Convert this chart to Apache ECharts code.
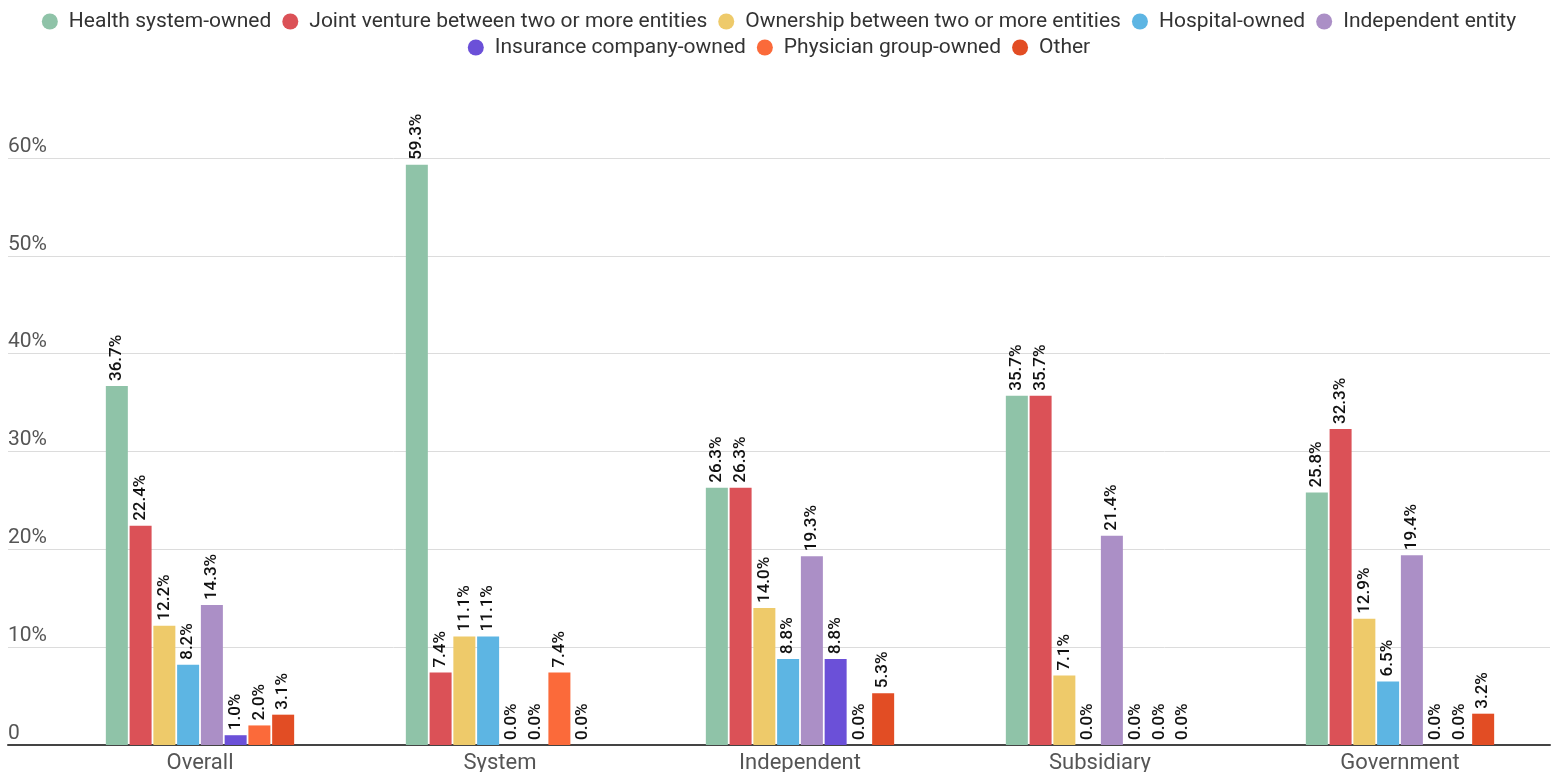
<!DOCTYPE html>
<html>
<head>
<meta charset="utf-8">
<script src="https://cdn.jsdelivr.net/npm/echarts@6/dist/echarts.min.js"></script>
<style>
  html, body { margin: 0; padding: 0; background: #fff; }
  #chart { width: 1558px; height: 772px; }
</style>
</head>
<body>
<div id="chart"></div>
<script>
// Ownership breakdown by organisation type (percent of respondents)
const categories = ['Overall', 'System', 'Independent', 'Subsidiary', 'Government'];

const seriesNames = [
  'Health system-owned',
  'Joint venture between two or more entities',
  'Ownership between two or more entities',
  'Hospital-owned',
  'Independent entity',
  'Insurance company-owned',
  'Physician group-owned',
  'Other'
];

const healthSystemOwned = [36.7, 59.3, 26.3, 35.7, 25.8];
const jointVenture      = [22.4, 7.4, 26.3, 35.7, 32.3];
const sharedOwnership   = [12.2, 11.1, 14.0, 7.1, 12.9];
const hospitalOwned     = [8.2, 11.1, 8.8, 0.0, 6.5];
const independentEntity = [14.3, 0.0, 19.3, 21.4, 19.4];
const insuranceOwned    = [1.0, 0.0, 8.8, 0.0, 0.0];
const physicianOwned    = [2.0, 7.4, 0.0, 0.0, 0.0];
const otherOwned        = [3.1, 0.0, 5.3, 0.0, 3.2];

const yTicks = [0, 10, 20, 30, 40, 50, 60];

const seriesValues = [
  healthSystemOwned, jointVenture, sharedOwnership, hospitalOwned,
  independentEntity, insuranceOwned, physicianOwned, otherOwned
];
const palette = ['#8fc3a8', '#db5157', '#eeca6a', '#5db5e3', '#ab8fc6', '#6b50d8', '#fb6a3a', '#e24d24'];

const chart = echarts.init(document.getElementById('chart'), null, { renderer: 'canvas' });

const font = 'Roboto, "Noto Sans", sans-serif';

// Legend is split over two centred rows
const legendBase = {
  left: 'center',
  icon: 'circle',
  itemWidth: 16,
  itemHeight: 16,
  itemGap: 11,
  textStyle: { fontFamily: font, fontSize: 21, color: '#333', padding: [0, 0, 0, 6] }
};

chart.setOption({
  animation: false,
  color: palette,
  legend: [
    Object.assign({}, legendBase, { top: 6, data: seriesNames.slice(0, 5) }),
    Object.assign({}, legendBase, { top: 32, data: seriesNames.slice(5) })
  ],
  // Grid 0 carries the full-width gridlines and baseline; grid 1 holds the bars
  grid: [
    { left: 8, right: 8, top: 158, bottom: 27, outerBoundsMode: 'none', containLabel: false },
    { left: 50, right: 8, top: 158, bottom: 27, outerBoundsMode: 'none', containLabel: false }
  ],
  xAxis: [
    {
      gridIndex: 0, type: 'category', data: ['', ''],
      axisLine: { show: true, lineStyle: { color: '#444', width: 2 } },
      axisTick: { show: false }, axisLabel: { show: false }
    },
    {
      gridIndex: 1, type: 'category', data: categories,
      axisLine: { show: false }, axisTick: { show: false },
      axisLabel: { fontFamily: font, fontSize: 22, color: '#555', margin: 7 }
    }
  ],
  yAxis: [
    {
      gridIndex: 0, type: 'value', min: yTicks[0], max: yTicks[yTicks.length - 1], interval: 10,
      axisLine: { show: false }, axisTick: { show: false },
      splitLine: { lineStyle: { color: '#dcdcdc', width: 1 } },
      axisLabel: {
        inside: true, margin: 0, verticalAlign: 'bottom', padding: [0, 0, 1, 0],
        fontFamily: font, fontSize: 21, color: '#555',
        formatter: v => (v === 0 ? '0' : v + '%')
      }
    },
    {
      gridIndex: 1, type: 'value', min: yTicks[0], max: yTicks[yTicks.length - 1], interval: 10,
      show: false
    }
  ],
  series: seriesNames.map((name, i) => ({
    name,
    type: 'bar',
    xAxisIndex: 1,
    yAxisIndex: 1,
    data: seriesValues[i],
    barWidth: 22,
    barGap: '8%',
    label: {
      show: true,
      position: 'top',
      rotate: 90,
      align: 'left',
      verticalAlign: 'middle',
      distance: 5,
      fontFamily: font,
      fontSize: 17,
      fontWeight: 500,
      color: '#111',
      formatter: p => p.value.toFixed(1) + '%'
    }
  }))
});
</script>
</body>
</html>
